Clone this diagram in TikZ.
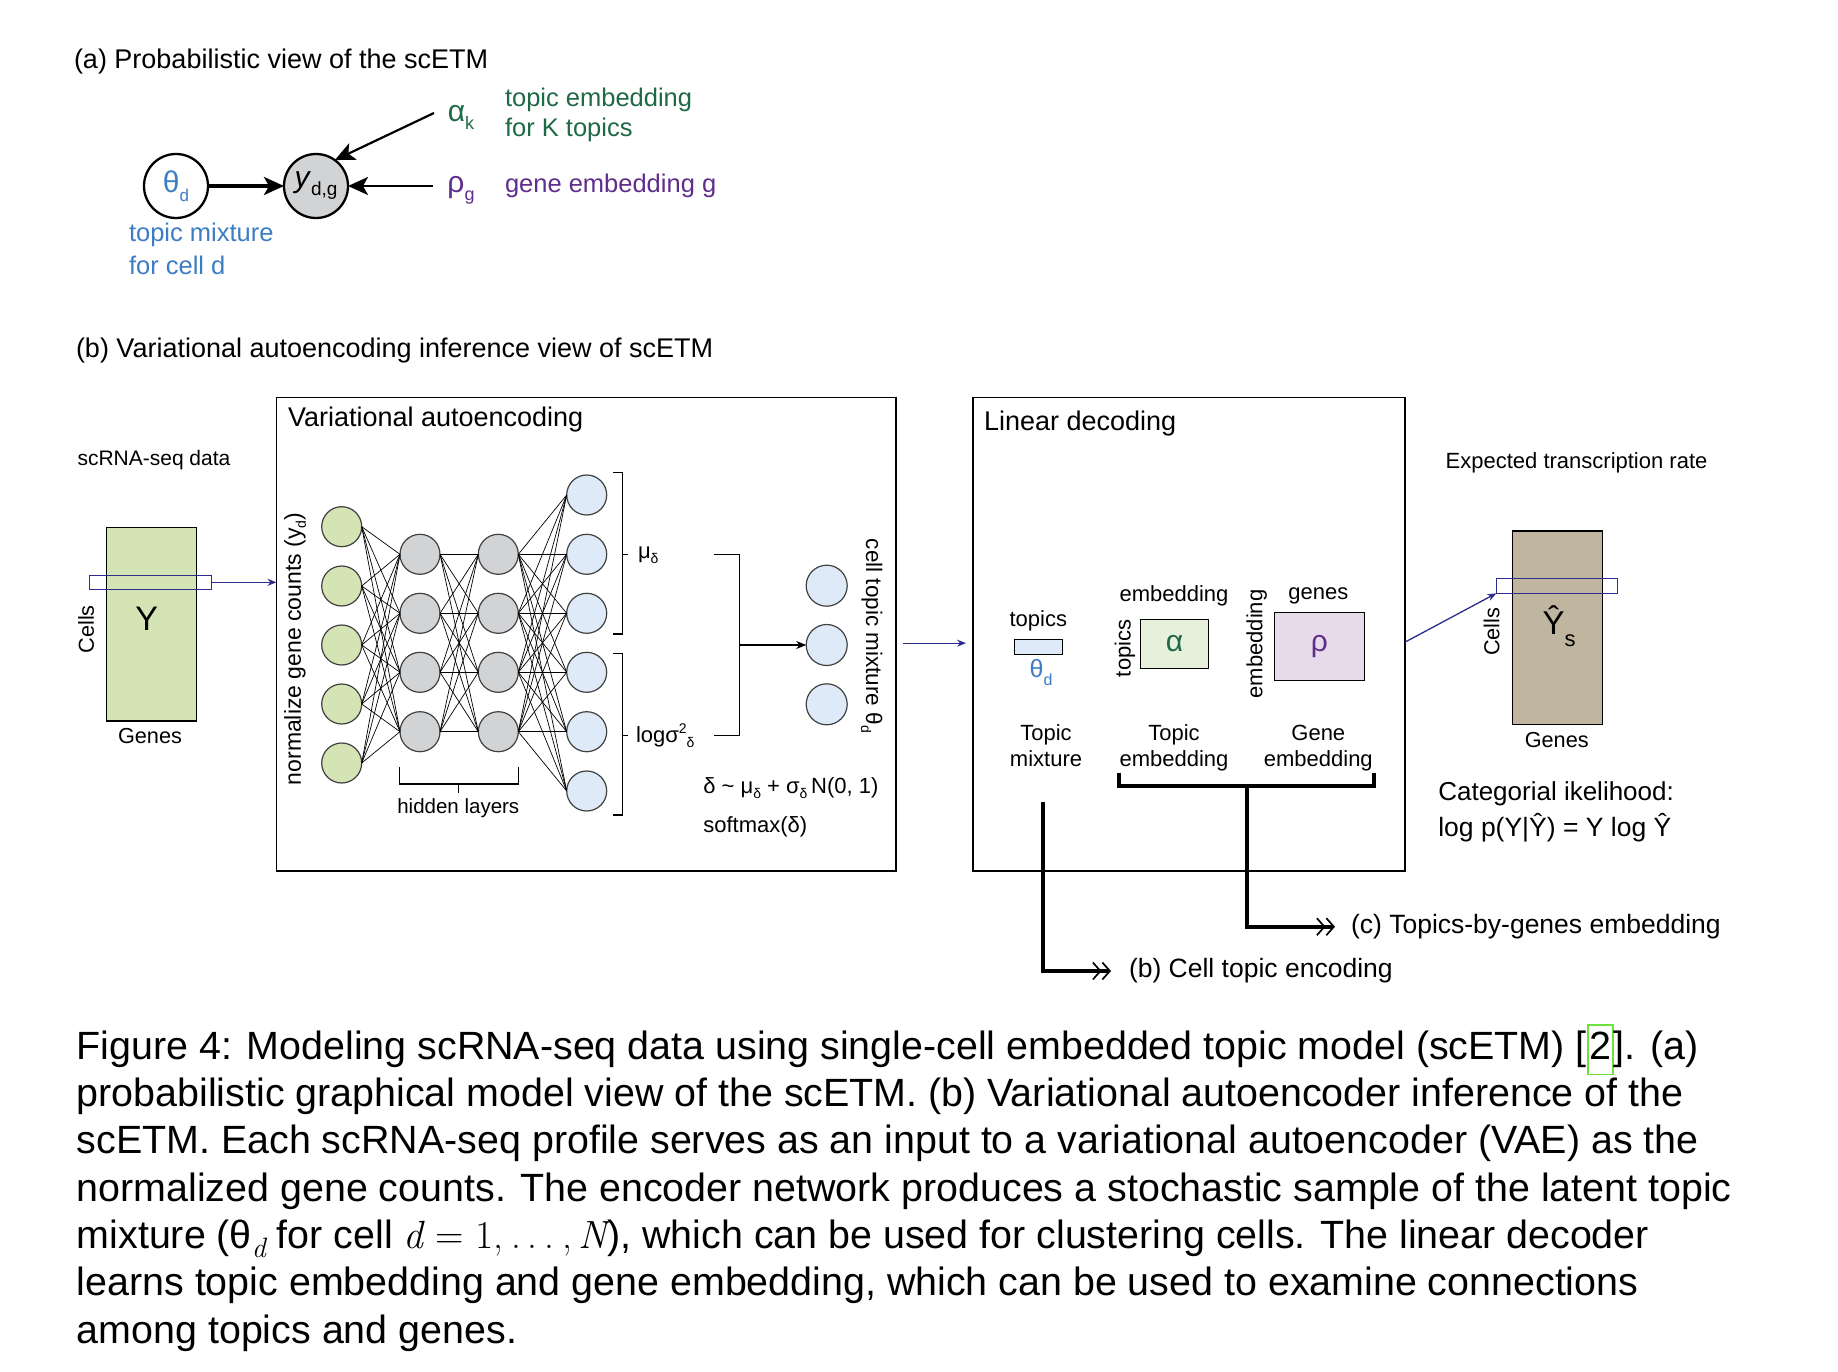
\documentclass[tikz,border=0pt]{standalone}
\usepackage{fontspec}
\setmainfont{Liberation Sans}
\newfontfamily\lmr{Latin Modern Roman}
\usetikzlibrary{arrows.meta,calc}
\newcommand\fs[1]{\fontsize{#1}{#1}\selectfont}
\newcommand\sbt[3]{\raisebox{-#1pt}{\fs{#2}#3}}
\definecolor{tblue}{RGB}{60,125,195}
\definecolor{tgreen}{RGB}{30,105,70}
\definecolor{tpurple}{RGB}{95,45,140}
\definecolor{ngreen}{RGB}{212,228,180}
\definecolor{ngray}{RGB}{210,211,213}
\definecolor{nblue}{RGB}{222,234,247}
\definecolor{agreen}{RGB}{230,240,218}
\definecolor{rpurple}{RGB}{231,219,235}
\definecolor{ytan}{RGB}{192,181,159}
\definecolor{navy}{RGB}{45,45,140}
\definecolor{linkg}{RGB}{110,225,60}
\newcommand\lnk[1]{{\setlength\fboxsep{0pt}\setlength\fboxrule{1.5pt}\fcolorbox{linkg}{white}{\strut\kern1pt#1\kern1pt}}}
\begin{document}
\begin{tikzpicture}[x=1pt,y=-1pt,
  every node/.style={inner sep=0pt, outer sep=0pt},
  nn/.style={circle, draw=black!75, line width=1.2pt, minimum size=40pt},
  edge/.style={line width=0.7pt},
  thin/.style={line width=1.3pt},
  bigarr/.style={-{Stealth[length=20pt,width=18pt,inset=5pt]}},
  bluearr/.style={navy, line width=1.3pt, -{Stealth[length=9pt,width=7pt]}},
  thickl/.style={line width=4pt, line cap=butt},
  dbl/.style={-{Straight Barb[length=7.5pt,width=17pt,line width=1.7pt] Straight Barb[length=7.5pt,width=17pt,line width=1.7pt]}},
  lab/.style={font=\fs{22}}
]
\useasboundingbox[fill=white] (0,0) rectangle (1838,1372);

% ---------------- (a) ----------------
\node[anchor=west, font=\fs{27}] (ta) at (74,62) {(a) Probabilistic view of the scETM};
\node[circle, draw, line width=2.3pt, minimum size=64pt, text=tblue, font=\fs{30}] (th) at (176,186) {θ\sbt{9}{17}{d}};
\node[circle, draw, line width=2.3pt, fill=ngray, minimum size=64pt, font=\fs{30}] (ydg) at (316,186) {\textit{y}\sbt{8}{19}{d,g}};
\node[text=tgreen, font=\fs{30}] (alk) at (461,117) {α\sbt{8}{18}{k}};
\node[text=tpurple, font=\fs{30}] (rhg) at (461,190) {ρ\sbt{8}{18}{g}};
\node[anchor=west, text=tgreen, font=\fs{25.5}] (l1) at (505,100) {topic embedding};
\node[anchor=west, text=tgreen, font=\fs{25.5}] (l2) at (505,130) {for K topics};
\node[anchor=west, text=tpurple, font=\fs{25.5}] (l3) at (505,186) {gene embedding g};
\node[anchor=west, text=tblue, font=\fs{25.5}] (l4) at (129,235) {topic mixture};
\node[anchor=west, text=tblue, font=\fs{25.5}] (l5) at (129,265) {for cell d};
\coordinate (alst) at (434,113);
\coordinate (rhst) at (433,186);
\draw[line width=3.3pt, bigarr] (th) -- (ydg);
\draw[line width=2.7pt, bigarr] (rhst) -- (ydg);
\draw[line width=2.2pt, bigarr] (alst) -- (ydg.54);

% ---------------- (b) ----------------
\node[anchor=west, font=\fs{27}] (tb) at (76,351) {(b) Variational autoencoding inference view of scETM};
\node[draw, thin, minimum width=619.5pt, minimum height=473.7pt, anchor=north west] (vae) at (276.5,397.3) {};
\node[draw, thin, minimum width=432pt, minimum height=473.7pt, anchor=north west] (lin) at (973,397.3) {};
\node[anchor=west, font=\fs{27}] (tvae) at (288,420) {Variational autoencoding};
\node[anchor=west, font=\fs{27}] (tlin) at (984,424) {Linear decoding};

% input matrix
\node[anchor=west, font=\fs{21}] (tsc) at (77.5,460) {scRNA-seq data};
\node[draw, thin, fill=ngreen, minimum width=90pt, minimum height=193.7pt, anchor=north west] (ym) at (106.7,527.3) {};
\node[font=\fs{34}] (ylab) at (146.7,618.3) {Y};
\node[draw=navy, thin, minimum width=122.4pt, minimum height=14pt, anchor=north west] (ys) at (89.3,575.3) {};
\draw[bluearr] (ys.east) -- (ys.east -| vae.west);
\node[rotate=90, font=\fs{21.7}] (cl1) at (86,629.3) {Cells};
\node[font=\fs{21.7}] (gn1) at (150,736) {Genes};
\node[rotate=90, font=\fs{23}] (ngc) at (295,649) {normalize gene counts (y\sbt{5}{14}{d})};

% network
\foreach \i/\yy in {1/526.7,2/586,3/645,4/704,5/763} \node[nn, fill=ngreen] (g\i) at (341.7,\yy) {};
\foreach \i/\yy in {1/554.3,2/613.3,3/672.3,4/731.7} {\node[nn, fill=ngray] (h\i) at (420,\yy) {}; \node[nn, fill=ngray] (k\i) at (498.3,\yy) {};}
\foreach \i/\yy in {1/495,2/554.3,3/613.3,4/672.3,5/731.7,6/791} \node[nn, fill=nblue] (o\i) at (586.7,\yy) {};
\foreach \i in {1,...,5} \foreach \j in {1,...,4} \draw[edge] (g\i.east) -- (h\j.west);
\foreach \i in {1,...,4} \foreach \j in {1,...,4} \draw[edge] (h\i.east) -- (k\j.west);
\foreach \i in {1,...,4} \foreach \j in {1,...,6} \draw[edge] (k\i.east) -- (o\j.west);

% brackets
\draw[thin] (399.3,766.7) -- (399.3,784) -- (518.3,784) -- (518.3,766.7);
\draw[thin] (458.8,784) -- (458.8,793.3);
\node[font=\fs{20.5}] (hl) at (458.3,807.7) {hidden layers};
\draw[thin] (613.3,472.7) -- (622.7,472.7) -- (622.7,634) -- (613.3,634);
\draw[thin] (622.7,554.3) -- (628.3,554.3);
\draw[thin] (613.3,653.3) -- (622.7,653.3) -- (622.7,815) -- (613.3,815);
\draw[thin] (622.7,735.7) -- (628.3,735.7);
\node[anchor=west, font=\fs{22}] (mu) at (638,555) {μ\sbt{5}{14}{δ}};
\node[anchor=west, font=\fs{22}] (ls) at (636,736) {logσ\raisebox{9pt}{\fs{14}2}\sbt{5}{14}{δ}};
\draw[thin] (714.3,554.3) -- (739.3,554.3) -- (739.3,735.7) -- (714.3,735.7);
\coordinate (mg) at (739.3,645);
\foreach \i/\yy in {1/585.7,2/645,3/704.3} \node[nn, fill=nblue, minimum size=41pt] (t\i) at (826.7,\yy) {};
\draw[thin, -{Stealth[length=10pt,width=8pt]}] (mg) -- (t2);
\node[rotate=-90, font=\fs{22.5}] (ctm) at (871.7,636) {cell topic mixture θ\sbt{5}{14}{d}};
\node[anchor=west, font=\fs{22}] (dl) at (703.3,788.3) {δ \textasciitilde{} μ\sbt{5}{14}{δ} + σ\sbt{5}{14}{δ}\,N(0, 1)};
\node[anchor=west, font=\fs{22}] (sm) at (703.3,826.7) {softmax(δ)};

\draw[bluearr] ($(vae.east)+(7,9)$) -- ($(lin.west)+(-7,9)$);

% decoder
\node[lab] (tp1) at (1038.3,621) {topics};
\node[draw, thin, fill=nblue, minimum width=48pt, minimum height=15pt, anchor=north west] (thr) at (1014.3,639.3) {};
\node[text=tblue, font=\fs{25}] (thd) at (1041,673) {θ\sbt{8}{16}{d}};
\node[lab] (em1) at (1174,596) {embedding};
\node[draw, thin, fill=agreen, minimum width=68.4pt, minimum height=49pt, anchor=north west] (alr) at (1140.3,619.3) {};
\node[text=tgreen, font=\fs{30}] (alt) at (alr) {α};
\node[lab, rotate=90] (tp2) at (1125,648.3) {topics};
\node[lab, rotate=90] (em2) at (1256.7,644) {embedding};
\node[lab] (gs) at (1318.3,596) {genes};
\node[draw, thin, fill=rpurple, minimum width=90.4pt, minimum height=68pt, anchor=north west] (rhr) at (1274.3,612.3) {};
\node[text=tpurple, font=\fs{30}] (rht) at (rhr) {ρ};
\node[lab, anchor=base] (d1) at (1046,740) {Topic};
\node[lab, anchor=base] (d2) at (1046,766) {mixture};
\node[lab, anchor=base] (d3) at (1174,740) {Topic};
\node[lab, anchor=base] (d4) at (1174,766) {embedding};
\node[lab, anchor=base] (d5) at (1318.3,740) {Gene};
\node[lab, anchor=base] (d6) at (1318.3,766) {embedding};

% output matrix
\node[anchor=west, font=\fs{22}] (etr) at (1445.7,463.3) {Expected transcription rate};
\node[draw, thin, fill=ytan, minimum width=89.6pt, minimum height=193.3pt, anchor=north west] (yh) at (1512.7,531) {};
\node[draw=navy, thin, minimum width=121.4pt, minimum height=15pt, anchor=north west] (yhs) at (1496.3,578.3) {};
\draw[bluearr] ($(lin.east)+(0,8)$) -- (yhs.south west);
\node[font=\fs{33}] (yht) at (1559,626) {Ŷ\sbt{12}{22}{s}};
\node[rotate=90, font=\fs{21.7}] (cl2) at (1491.7,631.7) {Cells};
\node[font=\fs{21.7}] (gn2) at (1556.7,740) {Genes};
\node[anchor=west, font=\fs{26}] (cat) at (1438.3,794) {Categorial ikelihood:};
\node[anchor=west, font=\fs{26.5}] (lp) at (1438.3,827.5) {log p(Y|Ŷ) = Y log Ŷ};

% bottom connectors
\node[anchor=west, font=\fs{26.5}] (lc) at (1351,926.7) {(c) Topics-by-genes embedding};
\node[anchor=west, font=\fs{26.5}] (lb) at (1129,971) {(b) Cell topic encoding};
\draw[thickl] (1119.3,773.3) -- (1119.3,785.7) -- (1374,785.7) -- (1374,773.3);
\coordinate (brm) at (1247,785.7);
\coordinate (tmx) at (1043,801.7);
\draw[thickl, dbl] (brm) |- ([xshift=-16pt]lc.west);
\draw[thickl, dbl] (tmx) |- ([xshift=-18pt]lb.west);

% caption
\begin{scope}[every node/.style={anchor=base west, inner sep=0pt, font=\fontsize{39.4}{48}\selectfont}]
\node (c1) at (76.6,1059.3) {Figure 4: Modeling scRNA-seq data using single-cell embedded topic model (scETM) [\lnk{2}]. (a)};
\node (c2) at (76.6,1106.6) {probabilistic graphical model view of the scETM. (b) Variational autoencoder inference of the};
\node (c3) at (76.6,1153.9) {scETM. Each scRNA-seq profile serves as an input to a variational autoencoder (VAE) as the};
\node (c4) at (76.6,1201.2) {normalized gene counts. The encoder network produces a stochastic sample of the latent topic};
\node (c5) at (76.6,1248.5) {mixture (θ\sbt{9}{28}{\lmr\itshape d} for cell {\lmr\itshape d}{\lmr\kern0.3em=\kern0.3em1,\kern0.2em.\kern0.17em.\kern0.17em.\kern0.2em,\kern0.17em}{\lmr\itshape N}), which can be used for clustering cells. The linear decoder};
\node (c6) at (76.6,1295.8) {learns topic embedding and gene embedding, which can be used to examine connections};
\node (c7) at (76.6,1343.1) {among topics and genes.};
\end{scope}
\end{tikzpicture}
\end{document}
